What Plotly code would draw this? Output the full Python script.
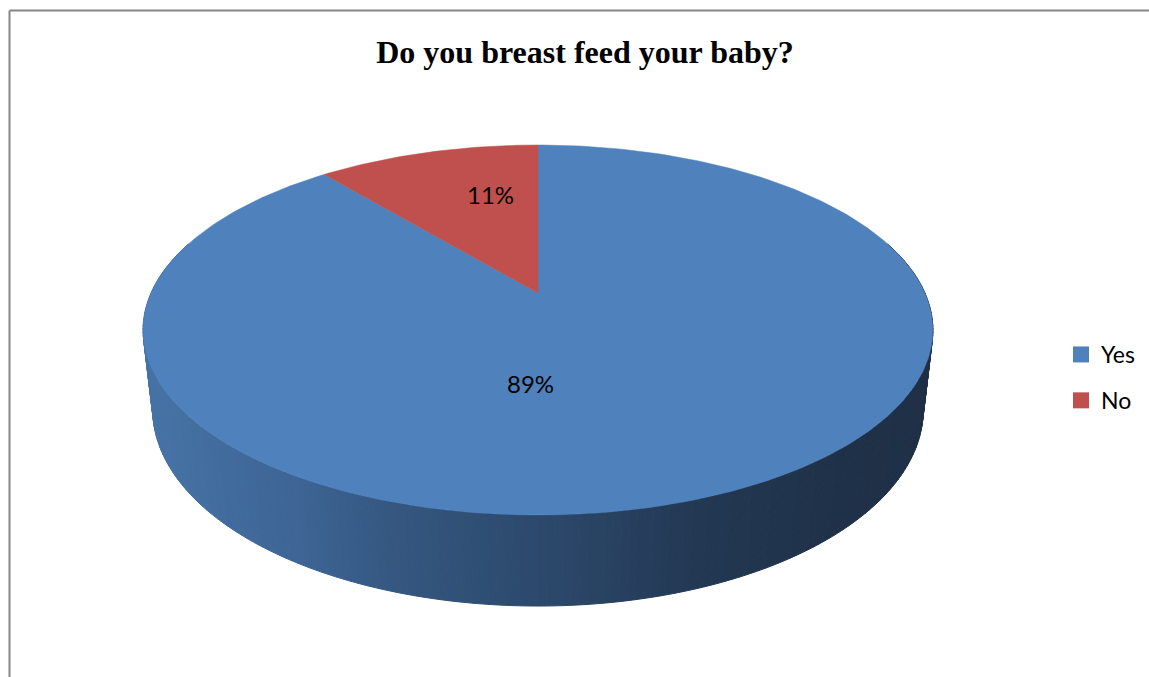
import numpy as np
import plotly.graph_objects as go

# ---------------- data ----------------
categories = ["Yes", "No"]
values = [89, 11]
slice_colors = ["#4F81BD", "#C0504D"]
title_text = "Do you breast feed your baby?"

# ---------------- 3D projection (style / layout constants) ----------------
W, HGT = 1149, 677
CX, CY = 538.0, 293.0        # projected centre of top face
F = 1718.0                   # focal length (px)
SN, CS = 0.459, 0.888        # sin / cos of elevation angle
DIST = 4.44                  # camera distance (in radii)
DEPTH = 0.234                # pie thickness (in radii)


def proj(X, Z, h):
    yc = Z * SN + h * CS
    zc = DIST + Z * CS - h * SN
    return CX + F * X / zc, CY - F * yc / zc


def side_color(sx):
    stops = [(143, (70, 115, 166)), (300, (61, 100, 148)), (400, (52, 86, 127)),
             (540, (44, 73, 108)), (700, (35, 56, 83)), (850, (31, 49, 72)),
             (935, (30, 47, 70))]
    xs = [s[0] for s in stops]
    rgb = [int(round(np.interp(sx, xs, [s[1][k] for s in stops]))) for k in range(3)]
    return "rgb(%d,%d,%d)" % tuple(rgb)


fig = go.Figure()

# ---------------- side wall (front part, painter's order) ----------------
N = 360
th = np.linspace(0, 2 * np.pi, N + 1)
strips = []
for i in range(N):
    t0, t1 = th[i], th[i + 1]
    tm = 0.5 * (t0 + t1)
    if np.cos(tm) > 0.3:
        continue
    xa, ya = proj(np.sin(t0), np.cos(t0), 0)
    xb, yb = proj(np.sin(t1), np.cos(t1), 0)
    xc, yc = proj(np.sin(t1), np.cos(t1), -DEPTH)
    xd, yd = proj(np.sin(t0), np.cos(t0), -DEPTH)
    strips.append((np.cos(tm), [xa, xb, xc, xd, xa], [ya, yb, yc, yd, ya], 0.5 * (xa + xb)))
strips.sort(key=lambda s: -s[0])
for _, xs, ys, mx in strips:
    col = side_color(mx)
    fig.add_trace(go.Scatter(x=xs, y=ys, mode="lines", fill="toself", fillcolor=col,
                             line=dict(color=col, width=1), hoverinfo="skip", showlegend=False))

# ---------------- top face slices ----------------
total = float(sum(values))
start = 0.0
for cat, val, col in zip(categories, values, slice_colors):
    a0 = start / total * 2 * np.pi
    a1 = (start + val) / total * 2 * np.pi
    ang = np.linspace(a0, a1, max(8, int(val * 4)))
    px, py = proj(np.sin(ang), np.cos(ang), 0)
    cx0, cy0 = proj(0.0, 0.0, 0)
    xs = [cx0] + list(px) + [cx0]
    ys = [cy0] + list(py) + [cy0]
    fig.add_trace(go.Scatter(x=xs, y=ys, mode="lines", fill="toself", fillcolor=col,
                             line=dict(color=col, width=0.5), name=cat,
                             hoverinfo="name", showlegend=False))
    start += val

# ---------------- legend entries ----------------
for i, (cat, col) in enumerate(zip(categories, slice_colors)):
    fig.add_trace(go.Scatter(x=[None], y=[None], mode="markers", name=cat,
                             legendgroup="g%d" % i,
                             marker=dict(symbol="square", size=16, color=col)))

# ---------------- data labels ----------------
label_pos = {"Yes": (530, 383), "No": (490, 194)}
for cat, val in zip(categories, values):
    lx, ly = label_pos[cat]
    fig.add_annotation(x=lx, y=ly, xref="x", yref="y", text="%d%%" % round(val / total * 100),
                       showarrow=False, font=dict(family="Lato, Carlito, sans-serif", size=24, color="#000000"))

# ---------------- frame lines ----------------
fig.add_shape(type="line", xref="x", yref="y", x0=9.5, y0=10.5, x1=W, y1=10.5,
              line=dict(color="#868686", width=2))
fig.add_shape(type="line", xref="x", yref="y", x0=9.5, y0=10.5, x1=9.5, y1=HGT,
              line=dict(color="#868686", width=2))

fig.update_layout(
    width=W, height=HGT,
    margin=dict(l=0, r=0, t=0, b=0),
    paper_bgcolor="white", plot_bgcolor="white",
    title=dict(text="<b>%s</b>" % title_text, x=585 / W, xanchor="center",
               y=1 - 52 / HGT, yanchor="middle",
               font=dict(family="Liberation Serif, Times New Roman, serif", size=32, color="#000000")),
    xaxis=dict(range=[0, W], visible=False, fixedrange=True),
    yaxis=dict(range=[HGT, 0], visible=False, fixedrange=True),
    legend=dict(x=1061 / W, y=1 - 333 / HGT, xanchor="left", yanchor="top",
                font=dict(family="Lato, Carlito, sans-serif", size=23, color="#000000"),
                tracegroupgap=13, bgcolor="rgba(0,0,0,0)", itemwidth=30),
    showlegend=True,
)

fig.write_html("out.html")
